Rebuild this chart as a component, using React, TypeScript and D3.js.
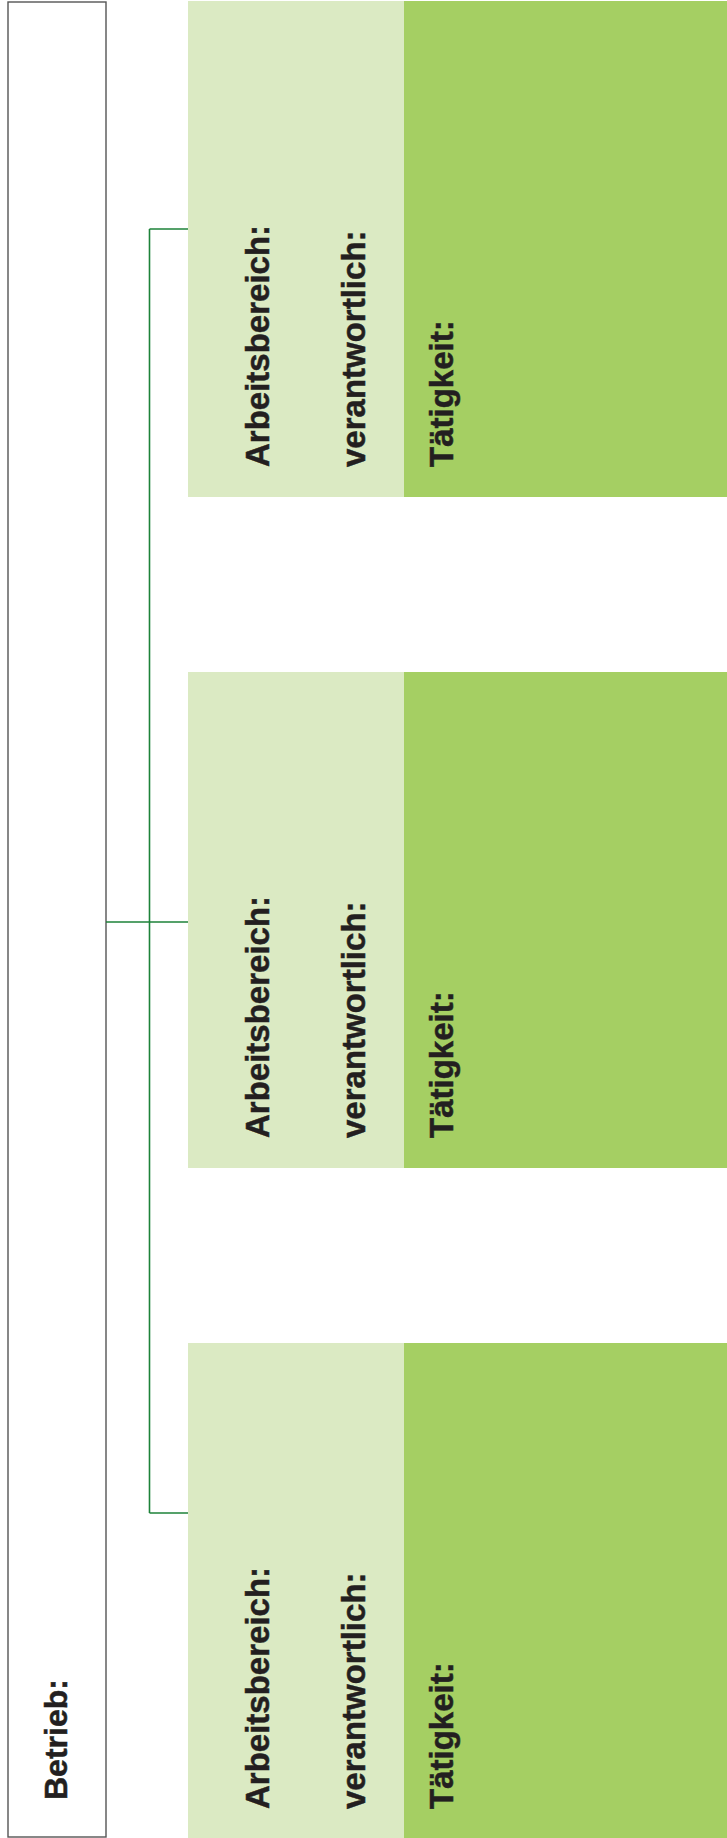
import React from "react";
import * as d3 from "d3";

const rootLabel = "Betrieb:";
const branches = ["Bereich 1", "Bereich 2", "Bereich 3"];
const fieldLabels = ["Arbeitsbereich:", "verantwortlich:"];
const taskLabel = "Tätigkeit:";

const W = 727;
const H = 1838;
const LAYOUT = {
  boxX0: 8,
  boxX1: 106,
  boxY0: 2,
  boxY1: 1837,
  trunkX: 149.5,
  lightX0: 188,
  darkX0: 404,
  blockH: 496,
  textInset: 30,
  connectorY: [229, 922, 1513],
  fieldBaselines: [269, 365],
  taskBaseline: 453,
  rootBaseline: 67,
  rootY: 1800,
};

const LIGHT = "#dbeac3";
const DARK = "#a5cf63";
const LINE = "#1d8239";
const TEXT = "#231f20";
const FONT = "'Liberation Sans', Arial, Helvetica, sans-serif";

export default function App() {
  const blockTop = d3
    .scaleLinear()
    .domain([0, branches.length - 1])
    .range([1, 1343]);

  const ys = LAYOUT.connectorY;
  const trunk = d3.line<[number, number]>()([
    [LAYOUT.trunkX, ys[0]],
    [LAYOUT.trunkX, ys[ys.length - 1]],
  ]);

  const textProps = {
    fontFamily: FONT,
    fontWeight: "bold" as const,
    fontSize: 33,
    fill: TEXT,
    stroke: TEXT,
    strokeWidth: 0.5,
  };

  return (
    <svg
      width={W}
      height={H}
      viewBox={`0 0 ${W} ${H}`}
      style={{ position: "absolute", left: 0, top: 0, background: "#fff" }}
    >
      <rect x={0} y={0} width={W} height={H} fill="#fff" />
      {branches.map((b, i) => {
        const top = blockTop(i);
        const bottom = Math.min(top + LAYOUT.blockH, H);
        const ty = top + LAYOUT.blockH - LAYOUT.textInset;
        return (
          <g key={b}>
            <rect
              x={LAYOUT.lightX0}
              y={top}
              width={LAYOUT.darkX0 - LAYOUT.lightX0}
              height={bottom - top}
              fill={LIGHT}
            />
            <rect
              x={LAYOUT.darkX0}
              y={top}
              width={W - LAYOUT.darkX0}
              height={bottom - top}
              fill={DARK}
            />
            {fieldLabels.map((f, j) => (
              <text
                key={f}
                transform={`translate(${LAYOUT.fieldBaselines[j]},${ty}) rotate(-90)`}
                {...textProps}
              >
                {f}
              </text>
            ))}
            <text
              transform={`translate(${LAYOUT.taskBaseline},${ty}) rotate(-90)`}
              {...textProps}
            >
              {taskLabel}
            </text>
          </g>
        );
      })}
      <rect
        x={LAYOUT.boxX0}
        y={LAYOUT.boxY0}
        width={LAYOUT.boxX1 - LAYOUT.boxX0}
        height={LAYOUT.boxY1 - LAYOUT.boxY0}
        fill="none"
        stroke="#555"
        strokeWidth={1.4}
      />
      <text
        transform={`translate(${LAYOUT.rootBaseline},${LAYOUT.rootY}) rotate(-90)`}
        {...textProps}
        fontSize={32}
      >
        {rootLabel}
      </text>
      <path d={trunk || ""} stroke={LINE} strokeWidth={1.6} fill="none" />
      {ys.map((y, i) => (
        <line
          key={i}
          x1={i === 1 ? LAYOUT.boxX1 : LAYOUT.trunkX}
          x2={LAYOUT.lightX0}
          y1={y}
          y2={y}
          stroke={LINE}
          strokeWidth={1.6}
        />
      ))}
    </svg>
  );
}
